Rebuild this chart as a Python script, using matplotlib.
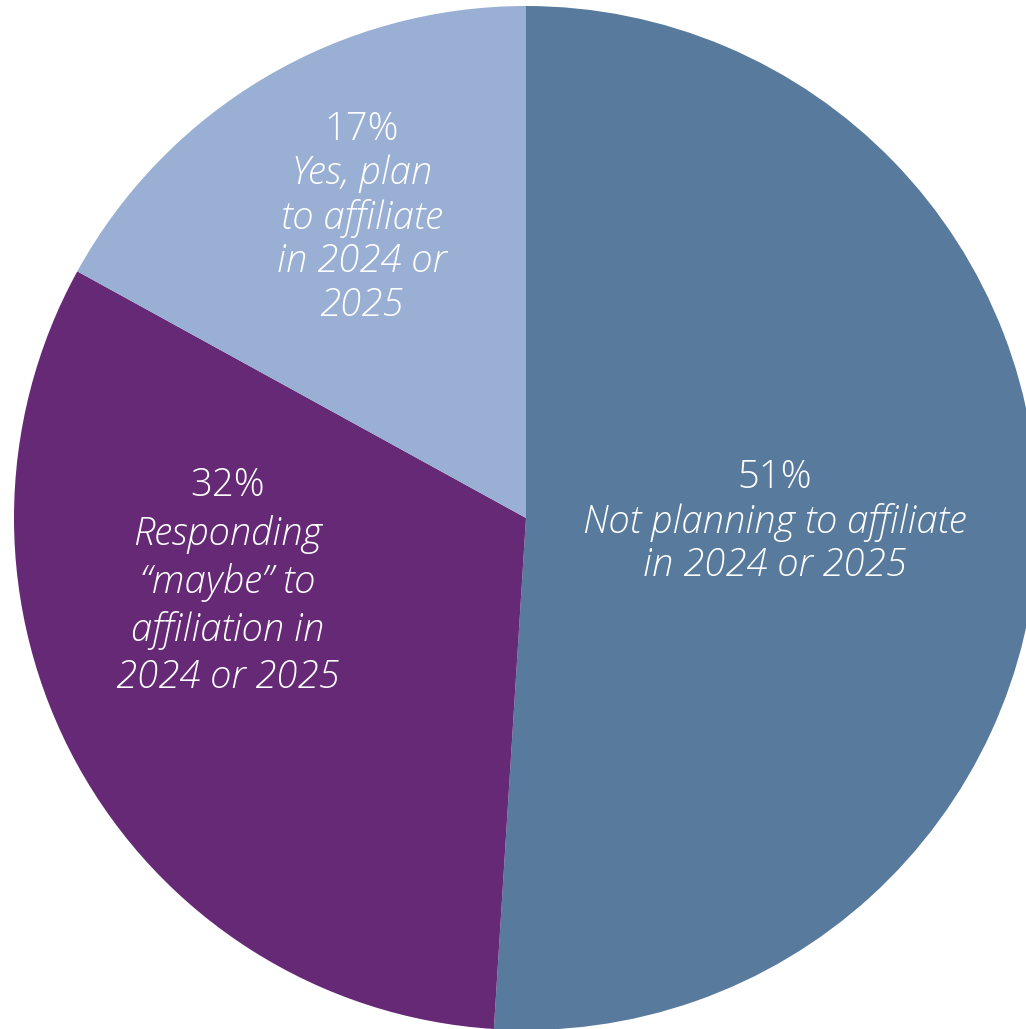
import matplotlib.pyplot as plt

# slices, clockwise from 12 o'clock
shares = [51, 32, 17]
labels = [
    ["Not planning to affiliate", "in 2024 or 2025"],
    ["Responding", "\u201cmaybe\u201d to", "affiliation in", "2024 or 2025"],
    ["Yes, plan", "to affiliate", "in 2024 or", "2025"],
]
colors = ["#587a9c", "#652976", "#99afd4"]

# text anchors in pixel coords (x, y of percent line, line step)
text_pos = [(775, 478, 44), (228, 486, 48), (362, 130, 44)]

W, H = 1026, 1029
fig = plt.figure(figsize=(W / 100, H / 100), dpi=100)
ax = fig.add_axes([0, 0, 1, 1])

# pie centre / radius in pixels; y axis is flipped, so counterclock=True draws clockwise
cx, cy, r = 526, 518, 512
ax.pie(shares, colors=colors, startangle=-90, counterclock=True,
       center=(cx, cy), radius=r, frame=True,
       wedgeprops=dict(linewidth=0))
ax.set_xlim(0, W)
ax.set_ylim(H, 0)
ax.set_aspect("equal")
ax.axis("off")

font = dict(family=["Open Sans", "DejaVu Sans"], weight="light", color="white",
            fontsize=27.5, ha="center", va="center")
for s, lines, (x, y, step) in zip(shares, labels, text_pos):
    ax.text(x, y, f"{s}%", **font)
    for i, line in enumerate(lines):
        ax.text(x, y + step * (i + 1), line, style="italic", **font)

fig.savefig("out.png", dpi=100)
